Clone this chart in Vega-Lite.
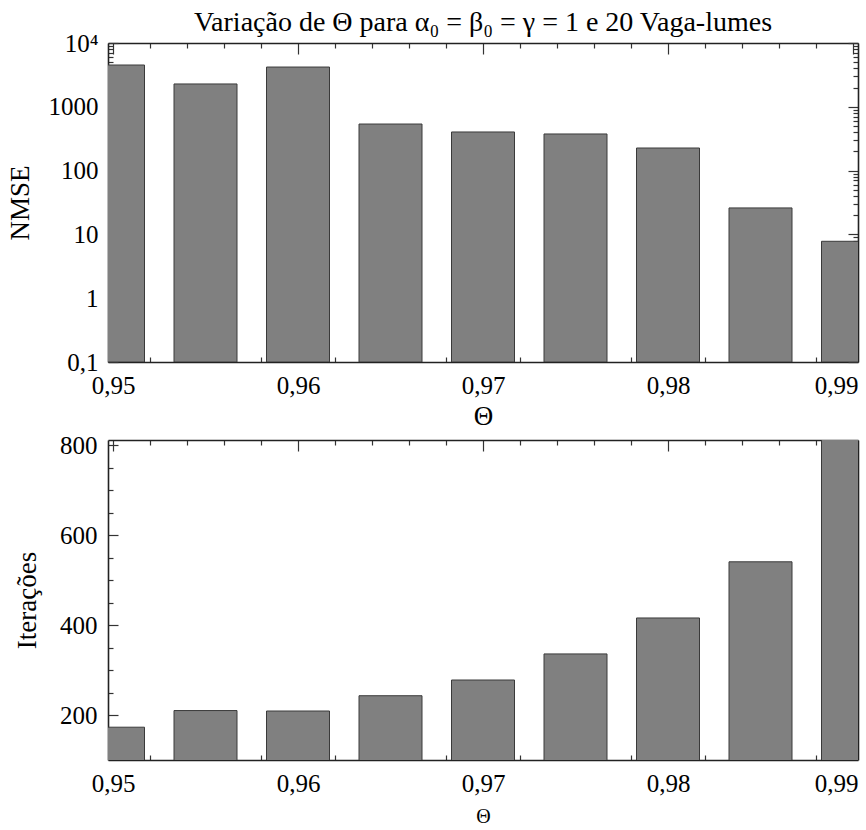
{
  "$schema": "https://vega.github.io/schema/vega-lite/v6.json",
  "background": "white",
  "padding": {"left": 6, "top": 9, "right": 3, "bottom": 0},
  "config": {
    "font": "Liberation Serif, Times New Roman, serif",
    "view": {"stroke": null},
    "axis": {
      "labelFont": "Liberation Serif, Times New Roman, serif",
      "labelFontSize": 25,
      "labelColor": "black",
      "titleFont": "Liberation Serif, Times New Roman, serif",
      "titleFontSize": 27,
      "titleFontWeight": "normal",
      "titleColor": "black",
      "domainColor": "#222222",
      "domainWidth": 1.6,
      "tickColor": "#333333",
      "tickWidth": 1.2,
      "grid": false,
      "labelOverlap": false,
      "labelFlush": false
    }
  },
  "datasets": {
    "runs": [
      {"theta": 0.95, "nmse": 4520, "iter": 173},
      {"theta": 0.955, "nmse": 2280, "iter": 210},
      {"theta": 0.96, "nmse": 4200, "iter": 209},
      {"theta": 0.965, "nmse": 537, "iter": 243},
      {"theta": 0.97, "nmse": 403, "iter": 278},
      {"theta": 0.975, "nmse": 375, "iter": 336},
      {"theta": 0.98, "nmse": 226, "iter": 416},
      {"theta": 0.985, "nmse": 26, "iter": 541},
      {"theta": 0.99, "nmse": 7.8, "iter": 815}
    ]
  },
  "vconcat": [
    {
      "width": 750,
      "height": 319,
      "data": {"name": "runs"},
      "title": {"text": "Variação de Θ para α₀ = β₀ = γ = 1 e 20 Vaga-lumes", "font": "Liberation Serif, Times New Roman, serif", "fontSize": 28, "fontWeight": "normal", "color": "black", "anchor": "middle", "offset": -6},
      "layer": [
        {
          "mark": {"type": "bar", "width": 63, "clip": true, "fill": "#808080", "stroke": "#3a3a3a", "strokeWidth": 1},
          "encoding": {
            "x": {"field": "theta", "type": "quantitative", "scale": {"domain": [0.95, 0.99], "nice": false, "zero": false},
              "axis": {"orient": "bottom", "title": "Θ", "titlePadding": -1,
                "values": [0.95,0.952,0.954,0.956,0.958,0.96,0.962,0.964,0.966,0.968,0.97,0.972,0.974,0.976,0.978,0.98,0.982,0.984,0.986,0.988,0.99],
                "labelExpr": "abs(datum.value*100 - round(datum.value*100)) < 1e-6 ? replace(format(datum.value, '.2f'), '.', ',') : ''",
                "labelAlign": {"condition": {"test": "datum.value > 0.9899", "value": "right"}, "value": "center"},
                "labelOffset": {"condition": {"test": "datum.value > 0.9899", "value": 5}, "value": 0},
                "labelPadding": 22,
                "tickSize": {"condition": {"test": "abs(datum.value*100 - round(datum.value*100)) < 1e-6", "value": -11}, "value": -5}}},
            "y": {"field": "nmse", "type": "quantitative", "scale": {"type": "log", "domain": [0.1, 10000], "nice": false},
              "axis": {"orient": "left", "title": "NMSE", "titlePadding": 14,
                "values": [0.1,0.2,0.3,0.4,0.5,0.6,0.7,0.8,0.9,1,2,3,4,5,6,7,8,9,10,20,30,40,50,60,70,80,90,100,200,300,400,500,600,700,800,900,1000,2000,3000,4000,5000,6000,7000,8000,9000,10000],
                "labelExpr": "abs(log(datum.value)/LN10 - round(log(datum.value)/LN10)) < 1e-6 ? (datum.value > 9999 ? '10⁴' : (datum.value < 0.5 ? '0,1' : format(datum.value, 'd'))) : ''",
                "labelPadding": 20,
                "tickSize": {"condition": {"test": "abs(log(datum.value)/LN10 - round(log(datum.value)/LN10)) < 1e-6", "value": -10}, "value": -5}}},
            "y2": {"datum": 0.1}
          }
        },
        {
          "mark": {"type": "bar", "width": 63, "clip": true, "opacity": 0},
          "encoding": {
            "x": {"field": "theta", "type": "quantitative",
              "axis": {"orient": "top", "title": null, "labels": false,
                "values": [0.95,0.952,0.954,0.956,0.958,0.96,0.962,0.964,0.966,0.968,0.97,0.972,0.974,0.976,0.978,0.98,0.982,0.984,0.986,0.988,0.99],
                "tickSize": {"condition": {"test": "abs(datum.value*100 - round(datum.value*100)) < 1e-6", "value": -11}, "value": -5}}},
            "y": {"field": "nmse", "type": "quantitative",
              "axis": {"orient": "right", "title": null, "labels": false,
                "values": [0.1,0.2,0.3,0.4,0.5,0.6,0.7,0.8,0.9,1,2,3,4,5,6,7,8,9,10,20,30,40,50,60,70,80,90,100,200,300,400,500,600,700,800,900,1000,2000,3000,4000,5000,6000,7000,8000,9000,10000],
                "tickSize": {"condition": {"test": "abs(log(datum.value)/LN10 - round(log(datum.value)/LN10)) < 1e-6", "value": -10}, "value": -5}}},
            "y2": {"datum": 0.1}
          }
        }
      ],
      "resolve": {"axis": {"x": "independent", "y": "independent"}}
    },
    {
      "width": 750,
      "height": 320,
      "data": {"name": "runs"},
      "layer": [
        {
          "mark": {"type": "bar", "width": 63, "clip": true, "fill": "#808080", "stroke": "#3a3a3a", "strokeWidth": 1},
          "encoding": {
            "x": {"field": "theta", "type": "quantitative", "scale": {"domain": [0.95, 0.99], "nice": false, "zero": false},
              "axis": {"orient": "bottom", "title": "Θ", "titlePadding": 4, "titleFontSize": 20,
                "values": [0.95,0.952,0.954,0.956,0.958,0.96,0.962,0.964,0.966,0.968,0.97,0.972,0.974,0.976,0.978,0.98,0.982,0.984,0.986,0.988,0.99],
                "labelExpr": "abs(datum.value*100 - round(datum.value*100)) < 1e-6 ? replace(format(datum.value, '.2f'), '.', ',') : ''",
                "labelAlign": {"condition": {"test": "datum.value > 0.9899", "value": "right"}, "value": "center"},
                "labelOffset": {"condition": {"test": "datum.value > 0.9899", "value": 5}, "value": 0},
                "labelPadding": 22,
                "tickSize": {"condition": {"test": "abs(datum.value*100 - round(datum.value*100)) < 1e-6", "value": -11}, "value": -5}}},
            "y": {"field": "iter", "type": "quantitative", "scale": {"domain": [100, 812], "nice": false, "zero": false},
              "axis": {"orient": "left", "title": "Iterações", "titlePadding": 18,
                "values": [150,200,250,300,350,400,450,500,550,600,650,700,750,800],
                "labelExpr": "datum.value % 200 == 0 ? format(datum.value, 'd') : ''",
                "labelPadding": 21,
                "tickSize": {"condition": {"test": "datum.value % 200 == 0", "value": -10}, "value": -5}}}
          }
        },
        {
          "mark": {"type": "bar", "width": 63, "clip": true, "opacity": 0},
          "encoding": {
            "x": {"field": "theta", "type": "quantitative",
              "axis": {"orient": "top", "title": null, "labels": false,
                "values": [0.95,0.952,0.954,0.956,0.958,0.96,0.962,0.964,0.966,0.968,0.97,0.972,0.974,0.976,0.978,0.98,0.982,0.984,0.986,0.988,0.99],
                "tickSize": {"condition": {"test": "abs(datum.value*100 - round(datum.value*100)) < 1e-6", "value": -11}, "value": -5}}},
            "y": {"field": "iter", "type": "quantitative",
              "axis": {"orient": "right", "title": null, "labels": false,
                "values": [150,200,250,300,350,400,450,500,550,600,650,700,750,800],
                "tickSize": {"condition": {"test": "datum.value % 200 == 0", "value": -10}, "value": -5}}}
          }
        }
      ],
      "resolve": {"axis": {"x": "independent", "y": "independent"}}
    }
  ],
  "spacing": 4
}
